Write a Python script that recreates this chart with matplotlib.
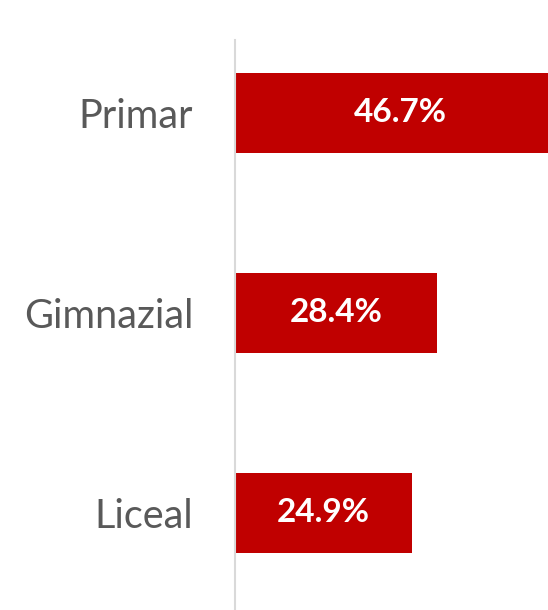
import matplotlib.pyplot as plt

# education level shares
categories = ["Primar", "Gimnazial", "Liceal"]
shares = [46.7, 28.4, 24.9]
labels = ["46.7%", "28.4%", "24.9%"]

RED = "#c00000"
GREY = "#595959"

W, H = 548, 610
fig = plt.figure(figsize=(W / 100, H / 100), dpi=100)
# the chart is cropped: the first bar runs off the right edge
ax = fig.add_axes([235 / W, 0, 313 / W, (H - 40) / H])

ypos = list(range(len(categories)))
ax.barh(ypos, shares, height=0.4, color=RED)
for y, v, lab in zip(ypos, shares, labels):
    ax.text(v / 2, y, lab, ha="center", va="center", color="white",
            fontsize=24, fontweight="bold", family="Lato")

ax.set_xlim(0, 313 / 7.1)
ax.set_ylim(2.485, -0.365)
ax.set_yticks(ypos)
ax.set_yticklabels(categories, fontsize=28.5, color=GREY, family="Lato")
ax.tick_params(axis="y", length=0, pad=30)
ax.set_xticks([])
for side in ["top", "right", "bottom"]:
    ax.spines[side].set_visible(False)
ax.spines["left"].set_color("#d9d9d9")
ax.spines["left"].set_linewidth(1.5)

fig.savefig("out.png", dpi=100)
